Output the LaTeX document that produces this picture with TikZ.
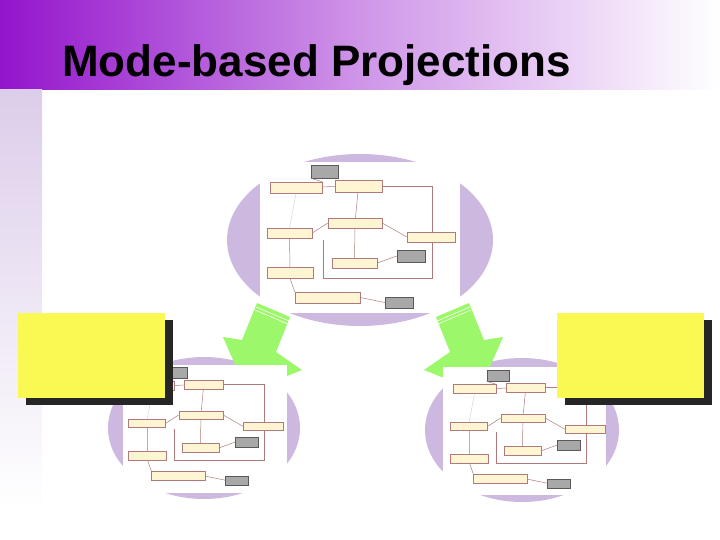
\documentclass[tikz,border=0pt]{standalone}
\usepackage{fontspec}
\setmainfont{Liberation Sans}
\begin{document}
\definecolor{lav}{HTML}{CDB8DF}
\definecolor{barp}{HTML}{9414CC}
\definecolor{strip}{HTML}{DCCDEA}
\definecolor{grn}{HTML}{9CF86A}
\definecolor{yel}{HTML}{FAF852}
\definecolor{umlfill}{HTML}{FFF5D2}
\definecolor{umlline}{HTML}{B07A7A}
\definecolor{notefill}{HTML}{A8A8A8}
\begin{tikzpicture}[x=1pt,y=-1pt,
  box/.style={draw=umlline,fill=umlfill,line width=0.5pt,inner sep=0pt,transform shape},
  note/.style={draw=gray!70!black,fill=notefill,line width=0.4pt,inner sep=0pt,transform shape},
  wire/.style={draw=umlline,line width=0.5pt},
  faint/.style={draw=umlline!40,line width=0.4pt},
  ell/.style={fill=lav},
  arr/.style={fill=grn},
  ybox/.style={fill=yel},
  shadow/.style={fill=black!85},
  pics/minidiag/.style={code={
    \node[note,minimum width=27,minimum height=13] (-N1) at (64.5,9.5) {};
    \node[box,minimum width=52,minimum height=11] (-A) at (36,25.5) {};
    \node[box,minimum width=47,minimum height=12] (-B) at (98.5,24) {};
    \node[box,minimum width=54,minimum height=10] (-C) at (95,61) {};
    \node[box,minimum width=45,minimum height=10] (-D) at (29.5,71) {};
    \node[box,minimum width=48,minimum height=10] (-E) at (171,75) {};
    \node[box,minimum width=45,minimum height=10] (-F) at (94.5,101) {};
    \node[note,minimum width=28,minimum height=12] (-N2) at (151,94) {};
    \node[box,minimum width=46,minimum height=11] (-G) at (30,110.5) {};
    \node[box,minimum width=65,minimum height=11] (-H) at (67.5,135.5) {};
    \node[note,minimum width=28,minimum height=11] (-N3) at (139,140.5) {};
    \coordinate (-f1) at (63,78); \coordinate (-f2) at (63,116);
    \coordinate (-f3) at (172,116); \coordinate (-f4) at (172,80);
    \coordinate (-b1) at (172,24);
    \draw[wire] (-A) -- (-B);
    \draw[wire] (-B.east) -- (-b1) -- (-E.north -| -b1);
    \draw[wire] (-B) -- (-C);
    \draw[faint] (-A.south) -- (-D.north);
    \draw[wire] (-C.west) -- (-D.east);
    \draw[wire] (-C.east) -- (-E.west);
    \draw[wire] (-C) -- (-F);
    \draw[wire] (-D) -- (-G);
    \draw[wire] (-F.east) -- (-N2.west);
    \draw[wire] (-f1) -- (-f2) -- (-f3) -- (-f4);
    \draw[wire] (-G.south) -- (-H.north west);
    \draw[wire] (-H.east) -- (-N3.west);
    \draw[wire] (-N1.south west) -- (-A.north east);
  }}]
\useasboundingbox (0,0) rectangle (720,540);
% title bar and strip
\shade[left color=barp,right color=white,middle color=barp!45] (0,0) rectangle (720,90);
\shade[top color=strip,bottom color=white] (0,90) rectangle (42,510);
\node[anchor=base west,font=\fontsize{44}{48}\selectfont\bfseries,inner sep=0pt] (title) at (62,77) {Mode-based Projections};
% top diagram
\fill[ell] (360,240) ellipse [x radius=133,y radius=86];
\fill[white] (260,162) rectangle (460,313);
\pic (top) at (260,162) {minidiag};
% bottom ellipses
\fill[ell] (204,428) ellipse [x radius=96,y radius=71];
\fill[ell] (522,430) ellipse [x radius=97,y radius=72];
% arrows
\fill[arr] (257,303) -- (290,317) -- (276,352) -- (302,370) -- (247,392) -- (223,337) -- (242,340) -- cycle;
\draw[white,line width=0.6pt] (256,307) -- (289,321);
\draw[white,line width=0.6pt] (255,310) -- (288,324);
\fill[arr] (469,303) -- (436,317) -- (450,352) -- (424,370) -- (479,392) -- (503,337) -- (484,340) -- cycle;
\draw[white,line width=0.6pt] (470,307) -- (437,321);
\draw[white,line width=0.6pt] (471,310) -- (438,324);
% bottom white areas and diagrams
\fill[white] (123,365) rectangle (287,493);
\fill[white] (443,367) rectangle (606,495);
\pic[scale=0.82] (bl) at (123,365) {minidiag};
\pic[scale=0.82] (br) at (445,368) {minidiag};
% yellow boxes with shadows
\fill[shadow] (26,320) rectangle (173,405);
\fill[ybox] (18,313) rectangle (165,398);
\fill[shadow] (565,320) rectangle (712,405);
\fill[ybox] (557,313) rectangle (704,398);
\end{tikzpicture}
\end{document}
